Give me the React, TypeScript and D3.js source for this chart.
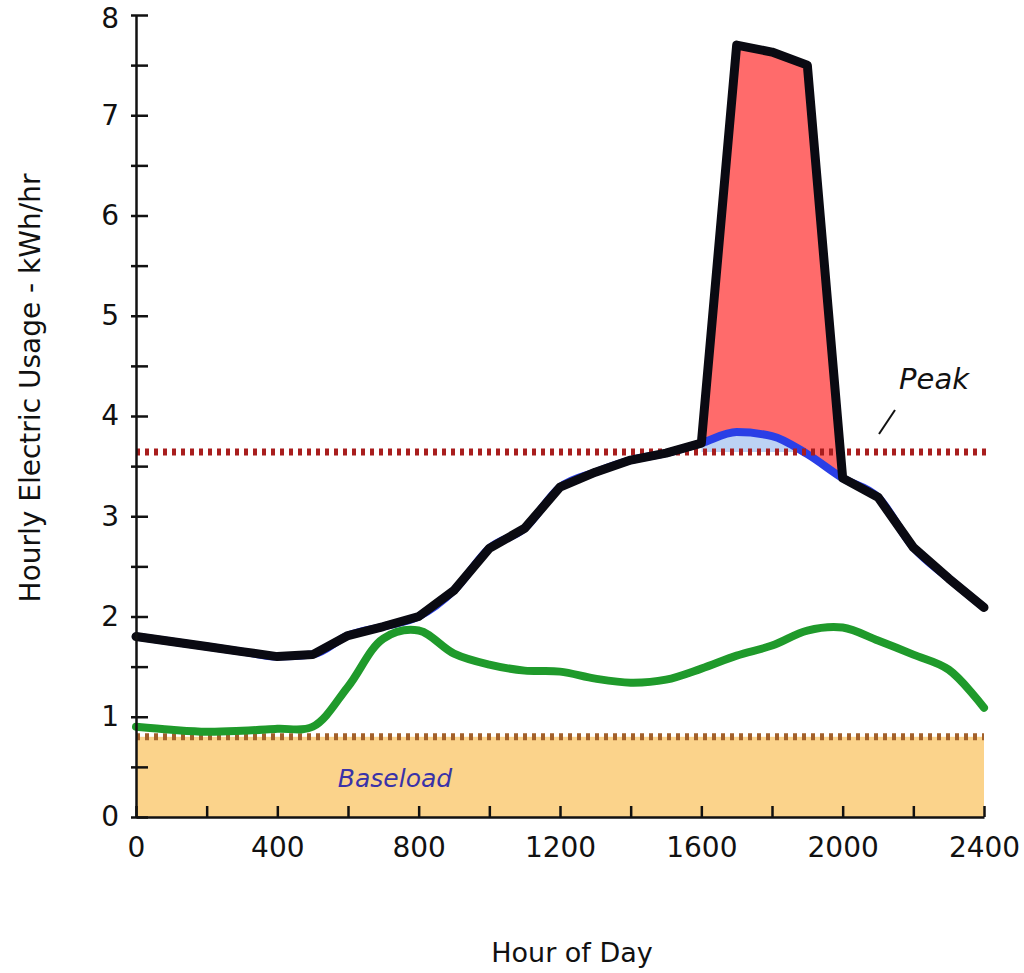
import { useEffect, useRef } from "react";
import * as d3 from "d3";

// hour of day (x) and the values (kWh/hr)
const hours = [
  0, 100, 200, 300, 400, 500, 600, 700, 800, 900, 1000, 1100, 1200, 1300,
  1400, 1500, 1600, 1700, 1800, 1900, 2000, 2100, 2200, 2300, 2400,
];
// black: actual usage incl. the peak spike
const usage = [
  1.8, 1.75, 1.7, 1.65, 1.6, 1.62, 1.81, 1.9, 2.0, 2.26, 2.68, 2.88, 3.29,
  3.44, 3.56, 3.63, 3.73, 7.7, 7.63, 7.5, 3.38, 3.19, 2.69, 2.38, 2.09,
];
// blue: usage without the spike
const shifted = [
  1.8, 1.75, 1.7, 1.65, 1.6, 1.62, 1.81, 1.9, 2.0, 2.26, 2.68, 2.88, 3.29,
  3.44, 3.56, 3.63, 3.73, 3.84, 3.8, 3.62, 3.38, 3.19, 2.69, 2.38, 2.09,
];
// green curve
const other = [
  0.9, 0.87, 0.85, 0.86, 0.88, 0.9, 1.3, 1.78, 1.86, 1.63, 1.52, 1.46, 1.45,
  1.38, 1.34, 1.37, 1.48, 1.61, 1.71, 1.86, 1.89, 1.76, 1.62, 1.47, 1.09,
];
const peakHours = [1600, 1700, 1800, 1900, 2000];
const peakLevel = 3.64;
const baseLevel = 0.8;
const xTicks = d3.range(0, 2401, 200);
const yTicks = d3.range(0, 8.01, 0.5);

const W = 1024,
  H = 973;
const FONT = "'DejaVu Sans', Verdana, sans-serif";

const App = () => {
  const ref = useRef<SVGSVGElement>(null);

  useEffect(() => {
    const svg = d3.select(ref.current);
    svg.selectAll("*").remove();

    const x = d3.scaleLinear([0, 2400], [136, 984]);
    const y = d3.scaleLinear([0, 8], [817, 15]);

    const pts = hours.map((h, i) => ({ h, u: usage[i], s: shifted[i], o: other[i] }));
    const peakPts = pts.filter((p) => peakHours.includes(p.h));

    const defs = svg.append("defs");
    // region above the blue curve
    defs
      .append("clipPath")
      .attr("id", "aboveBlue")
      .append("path")
      .attr(
        "d",
        d3
          .area<any>()
          .curve(d3.curveMonotoneX)
          .x((d) => x(d.h))
          .y0(0)
          .y1((d) => y(d.s))(peakPts)
      );
    defs
      .append("clipPath")
      .attr("id", "abovePeak")
      .append("rect")
      .attr("x", x(1600))
      .attr("y", 0)
      .attr("width", x(2000) - x(1600))
      .attr("height", y(peakLevel));

    // baseload fill
    svg
      .append("rect")
      .attr("x", x(0))
      .attr("y", y(baseLevel))
      .attr("width", x(2400) - x(0))
      .attr("height", y(0) - y(baseLevel))
      .attr("fill", "#fbd38b");

    // red spike fill
    svg
      .append("path")
      .attr(
        "d",
        d3
          .area<any>()
          .x((d) => x(d.h))
          .y0(y(0))
          .y1((d) => y(d.u))(peakPts)
      )
      .attr("clip-path", "url(#aboveBlue)")
      .attr("fill", "#ff6b6b");

    // light blue under the shifted curve
    svg
      .append("path")
      .attr(
        "d",
        d3
          .area<any>()
          .curve(d3.curveMonotoneX)
          .x((d) => x(d.h))
          .y0(y(peakLevel))
          .y1((d) => y(d.s))(peakPts)
      )
      .attr("clip-path", "url(#abovePeak)")
      .attr("fill", "#bcd2f4");

    // blue line
    svg
      .append("path")
      .attr(
        "d",
        d3
          .line<any>()
          .curve(d3.curveMonotoneX)
          .x((d) => x(d.h))
          .y((d) => y(d.s))(pts)
      )
      .attr("fill", "none")
      .attr("stroke", "#2a3fe6")
      .attr("stroke-width", 8);

    // dotted reference lines
    svg
      .append("line")
      .attr("x1", x(0))
      .attr("x2", x(2400) + 5)
      .attr("y1", y(peakLevel))
      .attr("y2", y(peakLevel))
      .attr("stroke", "#a81d1d")
      .attr("stroke-width", 7)
      .attr("stroke-dasharray", "4,5");
    svg
      .append("line")
      .attr("x1", x(0))
      .attr("x2", x(2400))
      .attr("y1", y(baseLevel))
      .attr("y2", y(baseLevel))
      .attr("stroke", "#a2602a")
      .attr("stroke-width", 7)
      .attr("stroke-dasharray", "4,5");

    // green line
    svg
      .append("path")
      .attr(
        "d",
        d3
          .line<any>()
          .curve(d3.curveCatmullRom)
          .x((d) => x(d.h))
          .y((d) => y(d.o))(pts)
      )
      .attr("fill", "none")
      .attr("stroke", "#1f9a2b")
      .attr("stroke-width", 8)
      .attr("stroke-linecap", "round");

    // black line
    svg
      .append("path")
      .attr(
        "d",
        d3
          .line<any>()
          .x((d) => x(d.h))
          .y((d) => y(d.u))(pts)
      )
      .attr("fill", "none")
      .attr("stroke", "#0a0a12")
      .attr("stroke-width", 9)
      .attr("stroke-linejoin", "round")
      .attr("stroke-linecap", "round");

    // axes
    const gx = svg
      .append("g")
      .attr("transform", `translate(0,${y(0)})`)
      .call(
        d3
          .axisBottom(x)
          .tickValues(xTicks)
          .tickSizeInner(-11)
          .tickSizeOuter(0)
          .tickPadding(20)
          .tickFormat((d: any) => (d % 400 === 0 ? String(d) : ""))
      );
    const gy = svg
      .append("g")
      .attr("transform", `translate(${x(0)},0)`)
      .call(
        d3
          .axisLeft(y)
          .tickValues(yTicks)
          .tickSizeInner(5)
          .tickSizeOuter(0)
          .tickPadding(12)
          .tickFormat((d: any) => (d % 1 === 0 ? String(d) : ""))
      );
    gy.selectAll(".tick line").attr("x1", 12);
    // top label sits right at the edge, nudge it down a little
    gy.selectAll<SVGGElement, number>(".tick")
      .filter((d) => d === 8)
      .select("text")
      .attr("dy", "0.45em");
    [gx, gy].forEach((g) => {
      g.select(".domain").attr("stroke", "#111").attr("stroke-width", 2.5);
      g.selectAll(".tick line").attr("stroke", "#111").attr("stroke-width", 2.5);
      g.selectAll(".tick text")
        .attr("font-family", FONT)
        .attr("font-size", 28)
        .attr("fill", "#111");
    });

    // labels
    svg
      .append("text")
      .attr("x", 572)
      .attr("y", 962)
      .attr("text-anchor", "middle")
      .attr("font-family", FONT)
      .attr("font-size", 27)
      .attr("fill", "#111")
      .text("Hour of Day");
    svg
      .append("text")
      .attr("transform", `translate(40,388) rotate(-90)`)
      .attr("text-anchor", "middle")
      .attr("font-family", FONT)
      .attr("font-size", 28)
      .attr("fill", "#111")
      .text("Hourly Electric Usage - kWh/hr");
    svg
      .append("text")
      .attr("x", 934)
      .attr("y", 389)
      .attr("text-anchor", "middle")
      .attr("font-family", FONT)
      .attr("font-style", "italic")
      .attr("font-size", 29)
      .attr("fill", "#111")
      .text("Peak");
    svg
      .append("line")
      .attr("x1", 879)
      .attr("y1", 434)
      .attr("x2", 895)
      .attr("y2", 410)
      .attr("stroke", "#111")
      .attr("stroke-width", 2);
    svg
      .append("text")
      .attr("x", 395)
      .attr("y", 787)
      .attr("text-anchor", "middle")
      .attr("font-family", FONT)
      .attr("font-style", "italic")
      .attr("font-size", 25)
      .attr("fill", "#3a32a8")
      .text("Baseload");
  }, []);

  return (
    <svg
      ref={ref}
      width={W}
      height={H}
      style={{ position: "absolute", left: 0, top: 0, background: "#fff" }}
    />
  );
};

export default App;
